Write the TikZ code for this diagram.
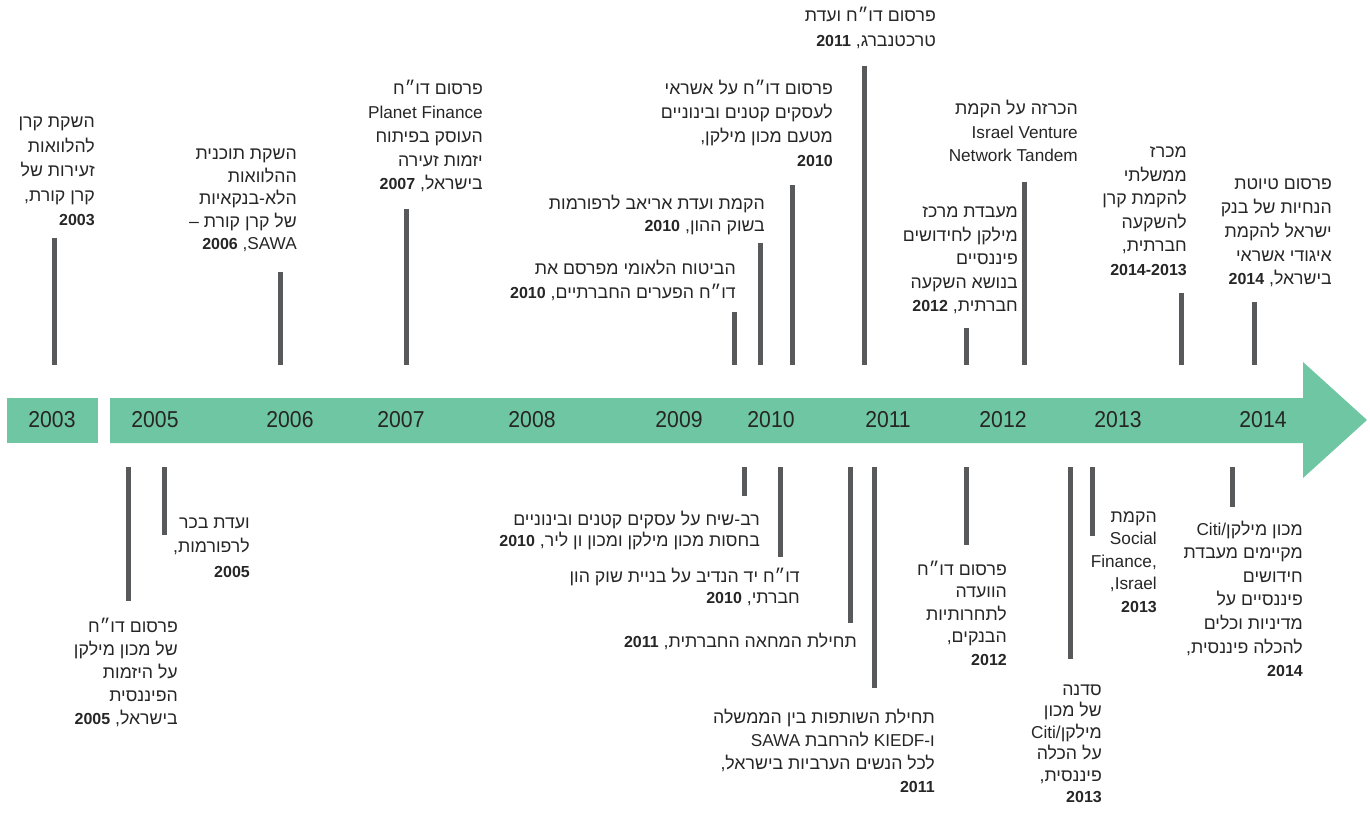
\documentclass[tikz,border=0pt]{standalone}
\usepackage{fontspec}
\setmainfont{Liberation Sans}
\newfontfamily\hebfont[Script=Hebrew,Scale=1.03]{Liberation Sans}
\newfontfamily\latfont{Liberation Sans}
\newfontfamily\bandfont[FakeStretch=0.92]{Liberation Sans}
\TeXXeTstate=1
\definecolor{bandgreen}{HTML}{6FC6A2}
\definecolor{bargray}{HTML}{58595B}
\definecolor{txtc}{HTML}{262626}
\newcommand\heb[1]{\beginR#1\endR}
\newcommand\lat[1]{{\latfont#1}}
\newcommand\Y[1]{{\latfont\fontsize{16}{16}\selectfont\bfseries#1}}
\newcommand\blk[2][23.3pt]{\vtop{\baselineskip=#1\lineskiplimit=-50pt\lineskip=0pt\halign{\hfil##\cr#2\crcr}}}
\tikzset{
  txt/.style={anchor=base east, inner sep=0pt, text=txtc, font=\hebfont\fontsize{17.2}{20}\selectfont},
  bar/.style={draw=bargray, line width=5pt},
  yr/.style={inner sep=0pt, text=txtc, font=\bandfont\fontsize{23}{23}\selectfont},
  band/.style={fill=bandgreen}
}
\begin{document}
\begin{tikzpicture}[x=1pt,y=-1pt]
\useasboundingbox (0,0) rectangle (1370,818);
% band
\fill[band] (7,398) rectangle (98,443);
\fill[band] (110,398) -- (1303,398) -- (1303,362) -- (1367,420) -- (1303,478) -- (1303,443) -- (110,443) -- cycle;
% years
\node[yr] (y2003) at (52,420) {2003};
\node[yr] (y2005) at (155,420) {2005};
\node[yr] (y2006) at (290,420) {2006};
\node[yr] (y2007) at (401,420) {2007};
\node[yr] (y2008) at (532,420) {2008};
\node[yr] (y2009) at (679,420) {2009};
\node[yr] (y2010) at (771,420) {2010};
\node[yr] (y2011) at (888,420) {2011};
\node[yr] (y2012) at (1003,420) {2012};
\node[yr] (y2013) at (1118,420) {2013};
\node[yr] (y2014) at (1263,420) {2014};
% top bars
\draw[bar] (54,238) -- (54,365);
\draw[bar] (280,272) -- (280,365);
\draw[bar] (406,209) -- (406,365);
\draw[bar] (734,312) -- (734,365);
\draw[bar] (760,243) -- (760,365);
\draw[bar] (792,185) -- (792,365);
\draw[bar] (864,66) -- (864,365);
\draw[bar] (966,328) -- (966,365);
\draw[bar] (1024,182) -- (1024,365);
\draw[bar] (1181,293) -- (1181,365);
\draw[bar] (1254,302) -- (1254,365);
% bottom bars
\draw[bar] (128,467) -- (128,601);
\draw[bar] (164,467) -- (164,535);
\draw[bar] (744,467) -- (744,496);
\draw[bar] (780,467) -- (780,557);
\draw[bar] (850,467) -- (850,623);
\draw[bar] (874,467) -- (874,688);
\draw[bar] (966,467) -- (966,545);
\draw[bar] (1070,467) -- (1070,659);
\draw[bar] (1092,467) -- (1092,536);
\draw[bar] (1232,467) -- (1232,507);
% top texts
\node[txt] (tA) at (95,128) {\blk[24.5pt]{\heb{השקת קרן}\cr \heb{להלוואות}\cr \heb{זעירות של}\cr \heb{קרן קורת,}\cr \Y{2003}}};
\node[txt] (tB) at (297,160) {\blk[22.5pt]{\heb{השקת תוכנית}\cr \heb{ההלוואות}\cr \heb{הלא-בנקאיות}\cr \heb{של קרן קורת –}\cr \Y{2006}\lat{ ,SAWA}}};
\node[txt] (tC) at (483,95) {\blk[23.7pt]{\heb{פרסום דו״ח}\cr \lat{Planet Finance}\cr \heb{העוסק בפיתוח}\cr \heb{יזמות זעירה}\cr \heb{בישראל, \Y{2007}}}};
\node[txt] (tD) at (736,275) {\blk[23.3pt]{\heb{הביטוח הלאומי מפרסם את}\cr \heb{דו״ח הפערים החברתיים, \Y{2010}}}};
\node[txt] (tE) at (765,210) {\blk[22pt]{\heb{הקמת ועדת אריאב לרפורמות}\cr \heb{בשוק ההון, \Y{2010}}}};
\node[txt] (tF) at (833,95) {\blk[24pt]{\heb{פרסום דו״ח על אשראי}\cr \heb{לעסקים קטנים ובינוניים}\cr \heb{מטעם מכון מילקן,}\cr \Y{2010}}};
\node[txt] (tG) at (936,22) {\blk[25pt]{\heb{פרסום דו״ח ועדת}\cr \heb{טרכטנברג, \Y{2011}}}};
\node[txt] (tH) at (1078,115) {\blk[23.5pt]{\heb{הכרזה על הקמת}\cr \lat{Israel Venture}\cr \lat{Network Tandem}}};
\node[txt] (tI) at (1018,218) {\blk[23.5pt]{\heb{מעבדת מרכז}\cr \heb{מילקן לחידושים}\cr \heb{פיננסיים}\cr \heb{בנושא השקעה}\cr \heb{חברתית, \Y{2012}}}};
\node[txt] (tJ) at (1187,158) {\blk[23.5pt]{\heb{מכרז}\cr \heb{ממשלתי}\cr \heb{להקמת קרן}\cr \heb{להשקעה}\cr \heb{חברתית,}\cr \Y{2014-2013}}};
\node[txt] (tK) at (1332,190) {\blk[23.7pt]{\heb{פרסום טיוטת}\cr \heb{הנחיות של בנק}\cr \heb{ישראל להקמת}\cr \heb{איגודי אשראי}\cr \heb{בישראל, \Y{2014}}}};
% bottom texts
\node[txt] (tL) at (250,528) {\blk[24.5pt]{\heb{ועדת בכר}\cr \heb{לרפורמות,}\cr \Y{2005}}};
\node[txt] (tM) at (178,632) {\blk[23.2pt]{\heb{פרסום דו״ח}\cr \heb{של מכון מילקן}\cr \heb{על היזמות}\cr \heb{הפיננסית}\cr \heb{בישראל, \Y{2005}}}};
\node[txt] (tN) at (760,525) {\blk[21pt]{\heb{רב-שיח על עסקים קטנים ובינוניים}\cr \heb{בחסות מכון מילקן ומכון ון ליר, \Y{2010}}}};
\node[txt] (tO) at (800,582) {\blk[21.5pt]{\heb{דו״ח יד הנדיב על בניית שוק הון}\cr \heb{חברתי, \Y{2010}}}};
\node[txt] (tP) at (857,647) {\blk{\heb{תחילת המחאה החברתית, \Y{2011}}}};
\node[txt] (tQ) at (935,723) {\blk[23pt]{\heb{תחילת השותפות בין הממשלה}\cr \lat{SAWA} \heb{להרחבת} \lat{KIEDF-}ו\cr \heb{לכל הנשים הערביות בישראל,}\cr \Y{2011}}};
\node[txt] (tR) at (1007,575) {\blk[22.5pt]{\heb{פרסום דו״ח}\cr \heb{הוועדה}\cr \heb{לתחרותיות}\cr \heb{הבנקים,}\cr \Y{2012}}};
\node[txt] (tS) at (1157,522) {\blk[22.5pt]{\heb{הקמת}\cr \lat{Social}\cr \lat{Finance,}\cr \lat{,Israel}\cr \Y{2013}}};
\node[txt] (tT) at (1102,695) {\blk[21.5pt]{\heb{סדנה}\cr \heb{של מכון}\cr \lat{Citi/}\heb{מילקן}\cr \heb{על הכלה}\cr \heb{פיננסית,}\cr \Y{2013}}};
\node[txt] (tU) at (1303,535) {\blk[23.6pt]{\lat{Citi/}\heb{מכון מילקן}\cr \heb{מקיימים מעבדת}\cr \heb{חידושים}\cr \heb{פיננסיים על}\cr \heb{מדיניות וכלים}\cr \heb{להכלה פיננסית,}\cr \Y{2014}}};
\end{tikzpicture}
\end{document}
